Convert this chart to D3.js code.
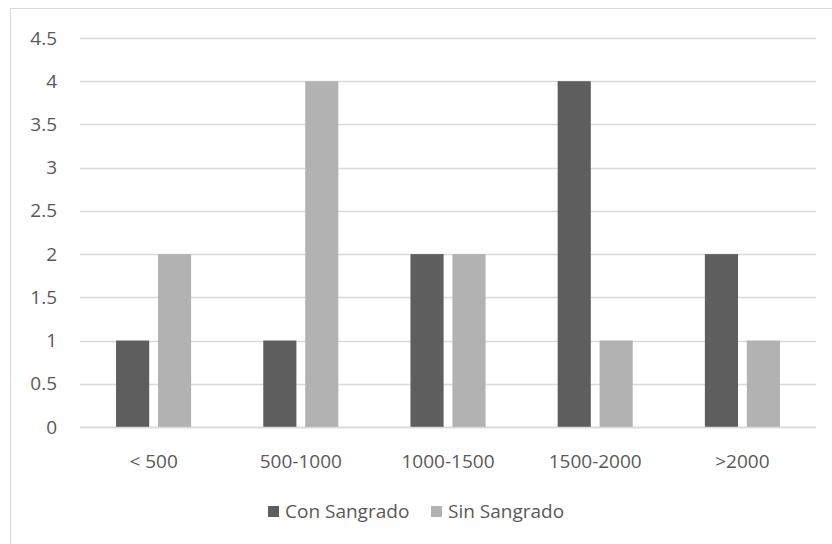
<!DOCTYPE html>
<html><head><meta charset="utf-8">
<script src="https://cdn.jsdelivr.net/npm/d3@7"></script>
<style>body{margin:0;background:#fff}text{font-family:"Open Sans",sans-serif;fill:#595959}</style>
</head><body><svg id="c" width="832" height="544"></svg>
<script>
const categories = ["< 500", "500-1000", "1000-1500", "1500-2000", ">2000"];
const seriesNames = ["Con Sangrado", "Sin Sangrado"];
const conSangrado = [1, 1, 2, 4, 2];
const sinSangrado = [2, 4, 2, 1, 1];
const yTicks = [0, 0.5, 1, 1.5, 2, 2.5, 3, 3.5, 4, 4.5];
const colors = ["#5e5e5e", "#b2b2b2"];

const svg = d3.select("#c");
svg.append("rect").attr("x", 10.5).attr("y", 8.5).attr("width", 840).attr("height", 560)
  .attr("fill", "#fff").attr("stroke", "#d9d9d9");

const x0 = d3.scaleBand().domain(categories).range([80, 816]).paddingInner(0.49).paddingOuter(0.245);
const x1 = d3.scaleBand().domain(seriesNames).range([0, x0.bandwidth()]).paddingInner(0.21);
const y = d3.scaleLinear().domain([0, 4.5]).range([427, 38]);

const g = svg.append("g");
g.selectAll("line.grid").data(yTicks).join("line")
  .attr("x1", 80).attr("x2", 816)
  .attr("y1", d => Math.round(y(d)) + 0.5).attr("y2", d => Math.round(y(d)) + 0.5)
  .attr("stroke", "#d9d9d9").attr("stroke-width", 1.3);

const yAxis = d3.axisLeft(y).tickValues(yTicks).tickSize(0).tickPadding(0).tickFormat(d => String(d));
const ya = svg.append("g").attr("transform", "translate(57,0)").call(yAxis);
ya.select(".domain").remove();
ya.selectAll("text").style("font-size", "19px").attr("fill", "#595959");

const data = [conSangrado, sinSangrado];
categories.forEach((c, i) => {
  seriesNames.forEach((s, j) => {
    const v = data[j][i];
    g.append("rect").attr("x", x0(c) + x1(s)).attr("y", y(v))
      .attr("width", x1.bandwidth()).attr("height", y(0) - y(v))
      .attr("fill", colors[j]);
  });
});
g.append("line").attr("x1", 80).attr("x2", 816).attr("y1", 427.5).attr("y2", 427.5)
  .attr("stroke", "#d9d9d9").attr("stroke-width", 1.3);

const xAxis = d3.axisBottom(x0).tickSize(0).tickPadding(0);
const xa = svg.append("g").attr("transform", "translate(0,454)").call(xAxis);
xa.select(".domain").remove();
xa.selectAll("text").style("font-size", "19px").attr("fill", "#595959");

const legend = svg.append("g");
const lx = [268, 431];
seriesNames.forEach((s, j) => {
  legend.append("rect").attr("x", lx[j]).attr("y", 506).attr("width", 11).attr("height", 11).attr("fill", colors[j]);
  legend.append("text").attr("x", lx[j] + 17).attr("y", 518).text(s).style("font-size", "19px");
});
</script></body></html>
